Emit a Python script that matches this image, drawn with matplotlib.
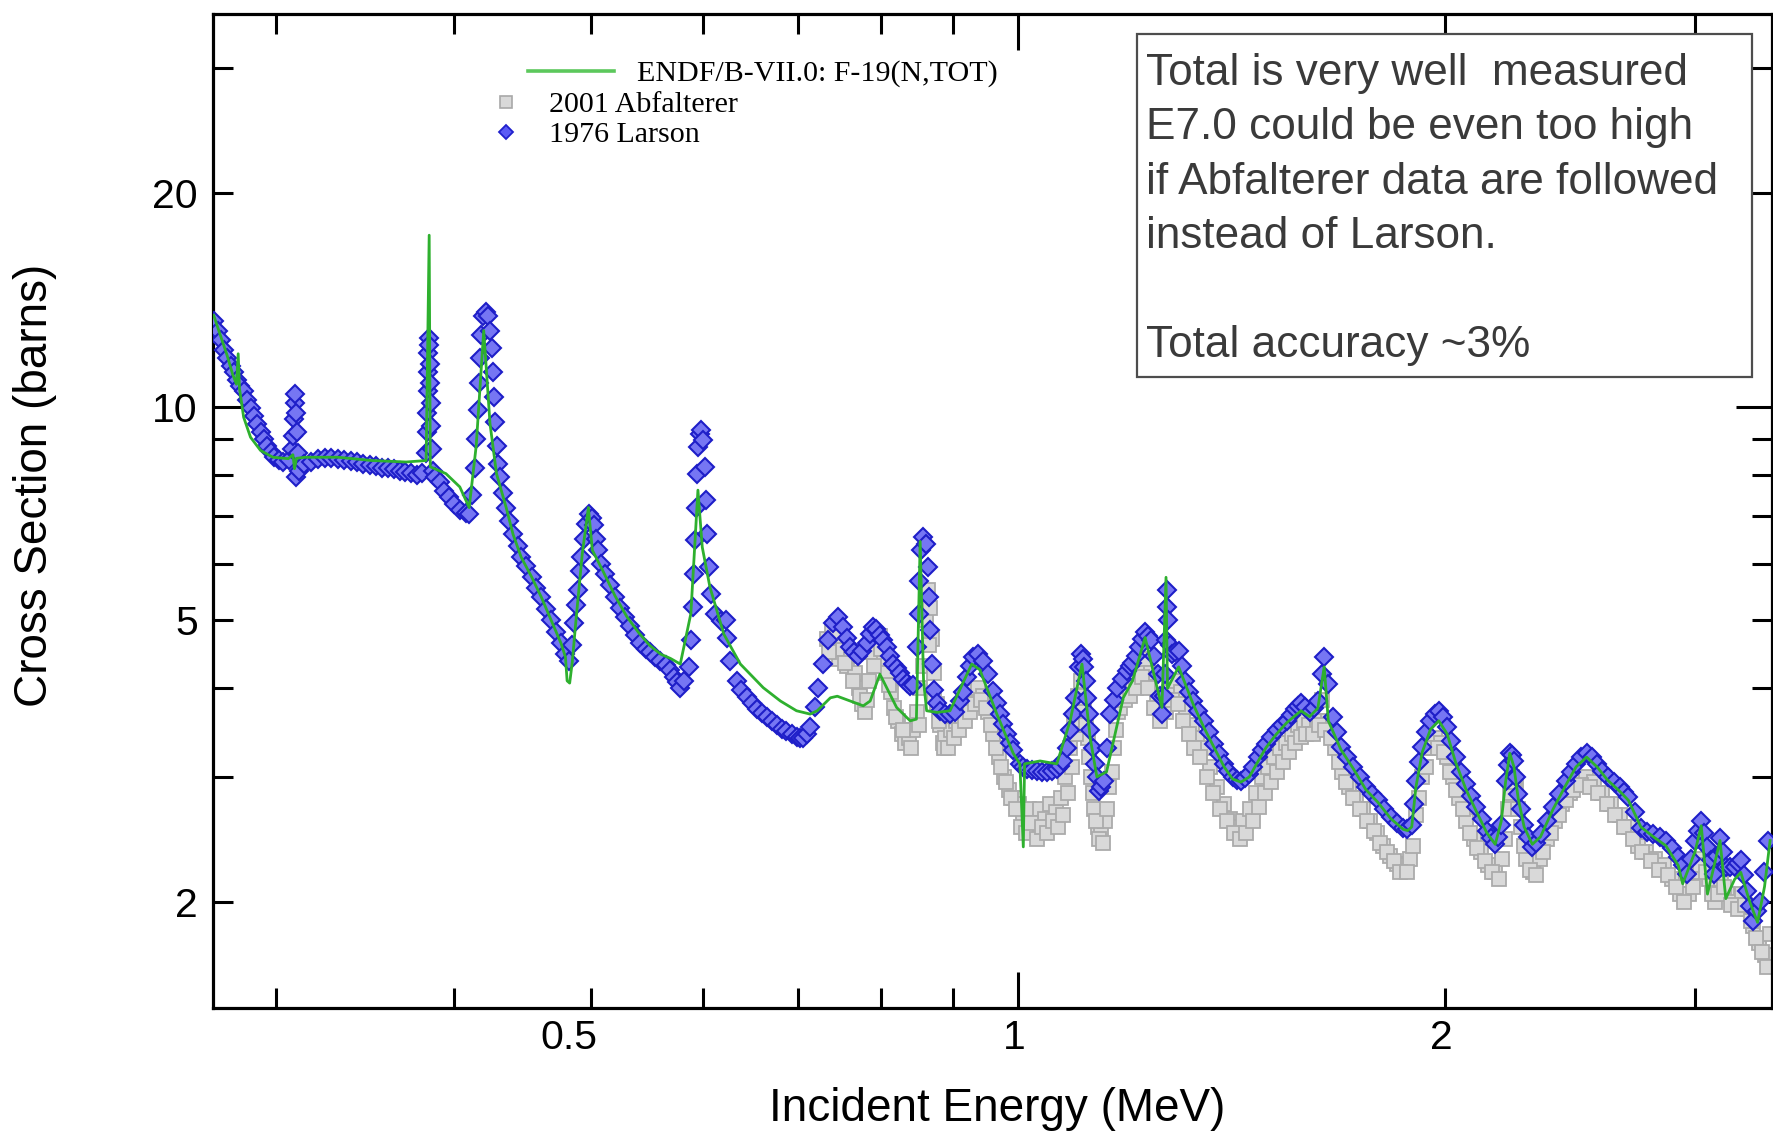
import matplotlib
matplotlib.use('Agg')
import matplotlib.pyplot as plt
import matplotlib.transforms as mtransforms
from matplotlib.lines import Line2D
from matplotlib.patches import Rectangle
from matplotlib.ticker import FixedLocator, FuncFormatter

# +------+
# | Data |   energy (MeV), cross section (barns)
# +------+
endf = [
  (0.2710, 13.45), (0.2740, 12.6), (0.2770, 11.8), (0.2795, 11.1), (0.2812, 10.75),
  (0.2820, 11.87), (0.2826, 10.6), (0.2845, 9.66), (0.2877, 9.05), (0.2924, 8.67),
  (0.2983, 8.48), (0.3059, 8.44), (0.3082, 8.55), (0.3090, 8.17), (0.3100, 8.45),
  (0.3143, 8.48), (0.3316, 8.48), (0.3502, 8.39), (0.3704, 8.35), (0.3826, 8.39),
  (0.3845, 17.45), (0.3852, 8.22), (0.3951, 8.04), (0.4041, 7.7), (0.4103, 7.2),
  (0.4150, 8.8), (0.4201, 12.8), (0.4244, 9.46), (0.4289, 8.04), (0.4357, 7.2),
  (0.4406, 6.6), (0.4464, 6.13), (0.4540, 5.75), (0.4613, 5.38), (0.4686, 5.0),
  (0.4763, 4.63), (0.4797, 4.43), (0.4810, 4.1), (0.4830, 4.07), (0.4850, 4.35),
  (0.4880, 5.0), (0.4930, 6.2), (0.4979, 7.2), (0.5011, 6.27), (0.5100, 5.85),
  (0.5200, 5.4), (0.5300, 5.05), (0.5400, 4.8), (0.5500, 4.6), (0.5600, 4.47),
  (0.5688, 4.41), (0.5780, 4.33), (0.5880, 5.1), (0.5948, 7.62), (0.5990, 6.33),
  (0.6065, 5.56), (0.6204, 4.77), (0.6372, 4.33), (0.6613, 4.01), (0.6800, 3.84),
  (0.6980, 3.72), (0.7136, 3.68), (0.7219, 3.72), (0.7375, 3.88), (0.7458, 3.9),
  (0.7614, 3.84), (0.7779, 3.78), (0.7867, 3.84), (0.7992, 4.19), (0.8212, 3.76),
  (0.8395, 3.6), (0.8480, 3.62), (0.8532, 6.45), (0.8579, 4.1), (0.8622, 3.72),
  (0.8768, 3.7), (0.8955, 3.72), (0.9277, 4.33), (0.9400, 4.25), (0.9663, 3.68),
  (0.9923, 3.24), (1.0031, 3.13), (1.0087, 2.39), (1.0108, 3.13), (1.0365, 3.16),
  (1.0651, 3.13), (1.0884, 3.6), (1.1095, 4.33), (1.1245, 3.4), (1.1367, 3.0),
  (1.1546, 3.05), (1.1864, 3.88), (1.2043, 4.1), (1.2292, 4.72), (1.2633, 3.76),
  (1.2717, 5.74), (1.2747, 4.0), (1.2980, 4.29), (1.3290, 3.8), (1.3517, 3.53),
  (1.3750, 3.3), (1.3975, 3.1), (1.4167, 2.98), (1.4360, 2.95), (1.4557, 3.0),
  (1.4758, 3.15), (1.4958, 3.3), (1.5215, 3.45), (1.5474, 3.58), (1.5834, 3.72),
  (1.6053, 3.65), (1.6271, 3.75), (1.6440, 4.29), (1.6550, 3.6), (1.6890, 3.28),
  (1.7238, 3.08), (1.7587, 2.88), (1.7945, 2.76), (1.8316, 2.62), (1.8691, 2.53),
  (1.8822, 2.52), (1.8950, 2.55), (1.9078, 2.9), (1.9275, 3.25), (1.9534, 3.5),
  (1.9801, 3.6), (2.0072, 3.45), (2.0346, 3.15), (2.0696, 2.88), (2.1050, 2.68),
  (2.1410, 2.5), (2.1701, 2.41), (2.1916, 2.6), (2.2068, 2.95), (2.2219, 3.24),
  (2.2370, 3.1), (2.2524, 2.8), (2.2744, 2.55), (2.3048, 2.41), (2.3357, 2.47),
  (2.3834, 2.7), (2.4332, 2.92), (2.4745, 3.1), (2.5171, 3.2), (2.5601, 3.1),
  (2.6040, 2.97), (2.6578, 2.86), (2.6941, 2.78), (2.7490, 2.55), (2.8050, 2.47),
  (2.8622, 2.4), (2.9210, 2.25), (2.9420, 2.12), (3.0010, 2.35), (3.0320, 2.56),
  (3.0627, 2.05), (3.1258, 2.44), (3.1553, 2.02), (3.2005, 2.15), (3.2330, 2.2),
  (3.2800, 2.0), (3.3220, 1.87), (3.3600, 2.1), (3.3905, 2.44),
]

larson = [
  (0.2713, 13.2), (0.2727, 12.8), (0.2741, 12.4), (0.2756, 12.0), (0.2770, 11.7),
  (0.2786, 11.4), (0.2800, 11.2), (0.2815, 10.9), (0.2830, 10.7), (0.2846, 10.5),
  (0.2861, 10.2), (0.2877, 9.95), (0.2893, 9.7), (0.2909, 9.45), (0.2925, 9.2),
  (0.2941, 9.0), (0.2957, 8.8), (0.2973, 8.62), (0.2990, 8.5), (0.3012, 8.4),
  (0.3034, 8.35), (0.3060, 8.4), (0.3078, 8.7), (0.3083, 9.1), (0.3087, 9.6),
  (0.3090, 10.1), (0.3093, 10.4), (0.3095, 7.95), (0.3097, 9.8), (0.3101, 9.2),
  (0.3106, 8.6), (0.3112, 8.1), (0.3140, 8.3), (0.3175, 8.35), (0.3210, 8.42),
  (0.3245, 8.45), (0.3280, 8.45), (0.3315, 8.42), (0.3350, 8.4), (0.3385, 8.38),
  (0.3420, 8.35), (0.3455, 8.3), (0.3490, 8.28), (0.3525, 8.25), (0.3560, 8.2),
  (0.3595, 8.18), (0.3630, 8.15), (0.3665, 8.1), (0.3700, 8.08), (0.3735, 8.05),
  (0.3770, 8.0), (0.3800, 8.05), (0.3825, 8.6), (0.3830, 9.2), (0.3833, 9.8),
  (0.3836, 10.5), (0.3838, 11.2), (0.3840, 11.9), (0.3843, 12.5), (0.3846, 12.2),
  (0.3849, 11.5), (0.3852, 10.8), (0.3855, 10.1), (0.3858, 9.4), (0.3862, 8.7),
  (0.3868, 8.1), (0.3880, 7.95), (0.3911, 7.82), (0.3940, 7.6), (0.3970, 7.45),
  (0.4005, 7.28), (0.4040, 7.15), (0.4080, 7.08), (0.4103, 7.05), (0.4125, 7.5),
  (0.4140, 8.2), (0.4150, 9.0), (0.4160, 9.9), (0.4168, 10.8), (0.4175, 11.7),
  (0.4185, 12.6), (0.4198, 13.4), (0.4215, 13.6), (0.4230, 13.4), (0.4245, 12.8),
  (0.4255, 12.1), (0.4265, 11.2), (0.4272, 10.3), (0.4280, 9.5), (0.4290, 8.8),
  (0.4302, 8.3), (0.4314, 7.95), (0.4335, 7.55), (0.4357, 7.2), (0.4380, 6.9),
  (0.4406, 6.6), (0.4438, 6.35), (0.4464, 6.13), (0.4501, 5.95), (0.4540, 5.75),
  (0.4576, 5.55), (0.4613, 5.38), (0.4650, 5.18), (0.4686, 5.0), (0.4724, 4.8),
  (0.4763, 4.63), (0.4797, 4.48), (0.4827, 4.38), (0.4847, 4.6), (0.4867, 4.95),
  (0.4882, 5.25), (0.4895, 5.5), (0.4909, 5.85), (0.4923, 6.13), (0.4942, 6.5),
  (0.4963, 6.83), (0.4987, 7.06), (0.5006, 6.95), (0.5028, 6.8), (0.5041, 6.5),
  (0.5056, 6.27), (0.5084, 6.0), (0.5112, 5.81), (0.5154, 5.6), (0.5196, 5.38),
  (0.5238, 5.2), (0.5281, 5.05), (0.5325, 4.9), (0.5367, 4.76), (0.5414, 4.64),
  (0.5464, 4.55), (0.5504, 4.5), (0.5548, 4.43), (0.5597, 4.38), (0.5643, 4.32),
  (0.5688, 4.25), (0.5722, 4.15), (0.5750, 4.08), (0.5781, 4.01), (0.5818, 4.1),
  (0.5858, 4.29), (0.5885, 4.68), (0.5898, 5.21), (0.5912, 5.81), (0.5923, 6.47),
  (0.5928, 7.2), (0.5938, 8.04), (0.5948, 8.76), (0.5968, 9.15), (0.5982, 9.26),
  (0.5995, 8.96), (0.6012, 8.22), (0.6024, 7.37), (0.6035, 6.6), (0.6052, 5.93),
  (0.6075, 5.44), (0.6117, 5.1), (0.6176, 4.98), (0.6221, 4.99), (0.6235, 4.72),
  (0.6263, 4.38), (0.6333, 4.1), (0.6375, 3.98), (0.6439, 3.89), (0.6492, 3.82),
  (0.6546, 3.74), (0.6600, 3.69), (0.6654, 3.65), (0.6706, 3.60), (0.6759, 3.55),
  (0.6813, 3.51), (0.6867, 3.48), (0.6925, 3.45), (0.6982, 3.42), (0.7020, 3.41),
  (0.7057, 3.4), (0.7097, 3.45), (0.7136, 3.53), (0.7193, 3.76), (0.7232, 4.01),
  (0.7291, 4.33), (0.7349, 4.68), (0.7410, 4.94), (0.7472, 5.05), (0.7532, 4.88),
  (0.7572, 4.72), (0.7615, 4.57), (0.7660, 4.5), (0.7709, 4.45), (0.7765, 4.52),
  (0.7821, 4.63), (0.7863, 4.78), (0.7905, 4.88), (0.7948, 4.85), (0.7992, 4.76),
  (0.8036, 4.68), (0.8081, 4.57), (0.8125, 4.45), (0.8168, 4.33), (0.8213, 4.27),
  (0.8258, 4.2), (0.8303, 4.12), (0.8349, 4.07), (0.8390, 4.03), (0.8432, 4.05),
  (0.8486, 4.57), (0.8510, 5.1), (0.8522, 5.68), (0.8540, 6.27), (0.8568, 6.54),
  (0.8616, 6.4), (0.8638, 5.93), (0.8651, 5.38), (0.8671, 4.83), (0.8696, 4.33),
  (0.8722, 3.98), (0.8765, 3.82), (0.8809, 3.72), (0.8880, 3.68), (0.8955, 3.68),
  (0.9030, 3.7), (0.9102, 3.84), (0.9150, 3.95), (0.9201, 4.15), (0.9250, 4.3),
  (0.9301, 4.43), (0.9378, 4.48), (0.9454, 4.38), (0.9531, 4.19), (0.9609, 3.97),
  (0.9660, 3.82), (0.9712, 3.68), (0.9766, 3.56), (0.9820, 3.45), (0.9872, 3.35),
  (0.9923, 3.27), (1.0031, 3.13), (1.0085, 3.1), (1.0140, 3.08), (1.0225, 3.07),
  (1.0309, 3.06), (1.0393, 3.05), (1.0478, 3.05), (1.0565, 3.06), (1.0651, 3.08),
  (1.0710, 3.11), (1.0766, 3.16), (1.0825, 3.3), (1.0884, 3.49), (1.0930, 3.68),
  (1.0974, 3.88), (1.1033, 4.29), (1.1076, 4.48), (1.1105, 4.4), (1.1136, 4.29),
  (1.1160, 4.1), (1.1185, 3.88), (1.1215, 3.68), (1.1245, 3.49), (1.1290, 3.3),
  (1.1336, 3.13), (1.1368, 3.0), (1.1400, 2.87), (1.1447, 2.9), (1.1494, 2.96),
  (1.1555, 3.3), (1.1619, 3.68), (1.1680, 3.85), (1.1745, 4.01), (1.1837, 4.12),
  (1.1929, 4.24), (1.1985, 4.3), (1.2043, 4.35), (1.2105, 4.45), (1.2168, 4.57),
  (1.2230, 4.7), (1.2292, 4.81), (1.2354, 4.75), (1.2416, 4.68), (1.2480, 4.45),
  (1.2543, 4.19), (1.2590, 3.9), (1.2633, 3.68), (1.2670, 3.9), (1.2700, 4.19),
  (1.2717, 4.68), (1.2735, 5.21), (1.2742, 5.5), (1.2767, 5.0), (1.2797, 4.6),
  (1.2846, 4.48), (1.2900, 4.5), (1.2980, 4.52), (1.3045, 4.3), (1.3110, 4.1),
  (1.3200, 3.95), (1.3290, 3.84), (1.3400, 3.72), (1.3517, 3.6), (1.3633, 3.47),
  (1.3750, 3.34), (1.3862, 3.23), (1.3975, 3.13), (1.4070, 3.06), (1.4167, 3.0),
  (1.4263, 2.97), (1.4360, 2.96), (1.4458, 2.99), (1.4557, 3.03), (1.4657, 3.1),
  (1.4758, 3.2), (1.4858, 3.27), (1.4958, 3.34), (1.5085, 3.42), (1.5215, 3.49),
  (1.5345, 3.55), (1.5474, 3.6), (1.5573, 3.67), (1.5673, 3.74), (1.5753, 3.78),
  (1.5834, 3.81), (1.5944, 3.76), (1.6053, 3.71), (1.6162, 3.75), (1.6271, 3.84),
  (1.6383, 4.19), (1.6440, 4.43), (1.6550, 4.06), (1.6668, 3.65), (1.6779, 3.47),
  (1.6890, 3.31), (1.7064, 3.2), (1.7238, 3.1), (1.7412, 3.0), (1.7587, 2.9),
  (1.7766, 2.84), (1.7945, 2.78), (1.8130, 2.7), (1.8316, 2.63), (1.8503, 2.58),
  (1.8691, 2.54), (1.8820, 2.53), (1.8950, 2.57), (1.9014, 2.75), (1.9078, 2.96),
  (1.9176, 3.15), (1.9275, 3.31), (1.9404, 3.47), (1.9534, 3.6), (1.9668, 3.68),
  (1.9801, 3.72), (1.9936, 3.65), (2.0072, 3.53), (2.0209, 3.37), (2.0346, 3.2),
  (2.0521, 3.05), (2.0696, 2.93), (2.0873, 2.82), (2.1050, 2.72), (2.1230, 2.62),
  (2.1410, 2.52), (2.1555, 2.46), (2.1701, 2.41), (2.1808, 2.47), (2.1916, 2.57),
  (2.2068, 2.96), (2.2144, 3.12), (2.2219, 3.24), (2.2295, 3.22), (2.2370, 3.16),
  (2.2447, 3.0), (2.2524, 2.84), (2.2634, 2.7), (2.2744, 2.57), (2.2896, 2.47),
  (2.3048, 2.39), (2.3202, 2.42), (2.3357, 2.49), (2.3595, 2.6), (2.3834, 2.72),
  (2.4083, 2.84), (2.4332, 2.96), (2.4538, 3.05), (2.4745, 3.13), (2.4958, 3.2),
  (2.5171, 3.24), (2.5386, 3.2), (2.5601, 3.13), (2.5820, 3.06), (2.6040, 3.0),
  (2.6309, 2.95), (2.6578, 2.9), (2.6759, 2.86), (2.6941, 2.81), (2.7215, 2.68),
  (2.7490, 2.54), (2.7770, 2.51), (2.8050, 2.49), (2.8336, 2.47), (2.8622, 2.44),
  (2.8916, 2.38), (2.9210, 2.31), (2.9411, 2.25), (2.9613, 2.19), (2.9811, 2.3),
  (3.0010, 2.44), (3.0165, 2.52), (3.0320, 2.6), (3.0473, 2.5), (3.0627, 2.39),
  (3.0783, 2.29), (3.0940, 2.19), (3.1099, 2.32), (3.1258, 2.46), (3.1416, 2.35),
  (3.1575, 2.24), (3.1790, 2.24), (3.2005, 2.24), (3.2168, 2.27), (3.2330, 2.29),
  (3.2498, 2.18), (3.2666, 2.07), (3.2832, 1.97), (3.2998, 1.88), (3.3165, 1.94),
  (3.3333, 2.0), (3.3556, 2.2), (3.3780, 2.44),
]

abfalterer = [
  (0.733, 4.7), (0.739, 4.85), (0.744, 4.6), (0.748, 4.4), (0.753, 4.55),
  (0.758, 4.3), (0.763, 4.45), (0.767, 4.2), (0.772, 4.0), (0.776, 3.8),
  (0.780, 3.7), (0.785, 4.1), (0.789, 4.5), (0.794, 4.7), (0.799, 4.75),
  (0.804, 4.4), (0.809, 4.2), (0.814, 3.95), (0.818, 3.75), (0.823, 3.6),
  (0.828, 3.45), (0.833, 3.35), (0.838, 3.4), (0.843, 3.5), (0.849, 3.7),
  (0.853, 4.0), (0.857, 4.3), (0.861, 5.0), (0.864, 5.5), (0.867, 5.2),
  (0.870, 4.7), (0.873, 4.2), (0.877, 3.8), (0.881, 3.55), (0.885, 3.35),
  (0.889, 3.4), (0.897, 3.5), (0.905, 3.6), (0.913, 3.7), (0.921, 3.85),
  (0.929, 3.95), (0.937, 4.0), (0.945, 3.9), (0.953, 3.7), (0.961, 3.45),
  (0.969, 3.2), (0.977, 3.0), (0.985, 2.88), (0.993, 2.8), (1.001, 2.75),
  (1.009, 2.6), (1.018, 2.7), (1.027, 2.55), (1.036, 2.7), (1.045, 2.62),
  (1.054, 2.75), (1.063, 2.68), (1.072, 2.8), (1.080, 3.0), (1.088, 3.3),
  (1.096, 3.6), (1.102, 3.9), (1.108, 4.1), (1.114, 3.8), (1.120, 3.4),
  (1.126, 3.0), (1.132, 2.7), (1.138, 2.55), (1.144, 2.5), (1.152, 2.6),
  (1.160, 2.9), (1.168, 3.3), (1.176, 3.7), (1.185, 3.9), (1.194, 4.0),
  (1.205, 4.1), (1.217, 4.3), (1.229, 4.4), (1.242, 4.2), (1.254, 3.9),
  (1.266, 3.75), (1.278, 3.95), (1.290, 4.1), (1.302, 3.95), (1.314, 3.75),
  (1.326, 3.55), (1.337, 3.4), (1.352, 3.3), (1.366, 3.1), (1.381, 2.9),
  (1.397, 2.75), (1.412, 2.62), (1.427, 2.55), (1.442, 2.6), (1.457, 2.7),
  (1.471, 2.85), (1.486, 3.0), (1.501, 3.1), (1.516, 3.2), (1.531, 3.3),
  (1.546, 3.35), (1.560, 3.45), (1.575, 3.55), (1.590, 3.6), (1.604, 3.55),
  (1.624, 3.6), (1.639, 3.85), (1.654, 3.6), (1.673, 3.3), (1.693, 3.05),
  (1.712, 2.9), (1.732, 2.8), (1.752, 2.7), (1.771, 2.6), (1.791, 2.5),
  (1.810, 2.4), (1.830, 2.32), (1.850, 2.26), (1.869, 2.25), (1.889, 2.3),
  (1.908, 2.65), (1.928, 3.0), (1.948, 3.3), (1.968, 3.4), (1.987, 3.35),
  (2.007, 3.2), (2.027, 3.0), (2.047, 2.8), (2.071, 2.6), (2.096, 2.45),
  (2.121, 2.35), (2.145, 2.25), (2.170, 2.2), (2.194, 2.3), (2.214, 2.7),
  (2.229, 3.0), (2.244, 2.9), (2.263, 2.55), (2.283, 2.3), (2.307, 2.2),
  (2.332, 2.3), (2.361, 2.45), (2.391, 2.6), (2.420, 2.75), (2.450, 2.85),
  (2.479, 2.95), (2.513, 3.0), (2.548, 2.95), (2.582, 2.85), (2.617, 2.75),
  (2.656, 2.65), (2.695, 2.55), (2.734, 2.4), (2.774, 2.35), (2.813, 2.3),
  (2.853, 2.25), (2.892, 2.15), (2.931, 2.05), (2.970, 2.05), (3.010, 2.2),
  (3.040, 2.3), (3.070, 2.15), (3.100, 2.0), (3.130, 2.15), (3.160, 2.05),
  (3.200, 2.0), (3.240, 2.05), (3.270, 1.95), (3.300, 1.85), (3.330, 1.75),
  (3.360, 1.68), (3.390, 1.8),
  # lower edge of the scattered band
  (0.736, 4.5), (0.746, 4.75), (0.755, 4.35), (0.765, 4.1), (0.774, 3.9),
  (0.783, 3.85), (0.791, 4.3), (0.801, 4.55), (0.811, 4.05), (0.820, 3.65),
  (0.830, 3.5), (0.840, 3.3), (0.851, 3.55), (0.866, 4.6), (0.872, 3.9),
  (0.879, 3.6), (0.887, 3.3), (0.893, 3.3), (0.901, 3.4), (0.909, 3.5),
  (0.917, 3.6), (0.925, 3.7), (0.933, 3.8), (0.941, 3.85), (0.949, 3.75),
  (0.957, 3.55), (0.965, 3.3), (0.973, 3.1), (0.981, 2.95), (0.989, 2.8),
  (0.997, 2.7), (1.005, 2.55), (1.013, 2.5), (1.022, 2.58), (1.031, 2.45),
  (1.040, 2.55), (1.049, 2.5), (1.058, 2.6), (1.067, 2.55), (1.076, 2.65),
  (1.084, 2.85), (1.092, 3.1), (1.099, 3.45), (1.105, 3.7), (1.117, 3.55),
  (1.123, 3.2), (1.129, 2.85), (1.135, 2.6), (1.141, 2.45), (1.148, 2.42),
  (1.156, 2.7), (1.164, 3.05), (1.172, 3.5), (1.181, 3.75), (1.190, 3.85),
  (1.200, 3.9), (1.211, 4.0), (1.223, 4.15), (1.236, 4.0), (1.248, 3.75),
  (1.260, 3.6), (1.272, 3.7), (1.284, 3.85), (1.296, 3.8), (1.308, 3.6),
  (1.320, 3.45), (1.331, 3.3), (1.344, 3.2), (1.359, 3.0), (1.373, 2.85),
  (1.389, 2.7), (1.404, 2.6), (1.419, 2.5), (1.434, 2.45), (1.449, 2.5),
  (1.464, 2.6), (1.478, 2.72), (1.493, 2.85), (1.508, 2.95), (1.523, 3.05),
  (1.538, 3.15), (1.553, 3.25), (1.567, 3.35), (1.582, 3.42), (1.597, 3.45),
  (1.614, 3.45), (1.631, 3.55), (1.646, 3.5), (1.663, 3.4), (1.683, 3.15),
  (1.702, 2.95), (1.722, 2.8), (1.742, 2.7), (1.761, 2.6), (1.781, 2.52),
  (1.800, 2.42), (1.820, 2.35), (1.840, 2.28), (1.860, 2.2), (1.879, 2.2),
  (1.898, 2.4), (1.918, 2.8), (1.938, 3.1), (1.958, 3.3), (1.977, 3.3),
  (1.997, 3.25), (2.017, 3.05), (2.037, 2.88), (2.059, 2.7), (2.083, 2.5),
  (2.108, 2.38), (2.133, 2.28), (2.157, 2.2), (2.182, 2.15), (2.204, 2.45),
  (2.221, 2.85), (2.236, 2.95), (2.253, 2.7), (2.273, 2.4), (2.295, 2.22),
  (2.320, 2.18), (2.346, 2.35), (2.376, 2.5), (2.405, 2.65), (2.435, 2.78),
  (2.464, 2.88), (2.496, 2.92), (2.530, 2.9), (2.565, 2.85), (2.600, 2.75),
  (2.636, 2.65), (2.675, 2.55), (2.714, 2.45), (2.754, 2.35), (2.793, 2.28),
  (2.833, 2.22), (2.872, 2.18), (2.911, 2.1), (2.950, 2.0), (2.990, 2.1),
  (3.025, 2.25), (3.055, 2.2), (3.085, 2.05), (3.115, 2.05), (3.145, 2.1),
  (3.180, 1.98), (3.220, 1.95), (3.255, 1.98), (3.285, 1.88), (3.315, 1.78),
  (3.345, 1.7), (3.375, 1.62),
]

legend_names = ['ENDF/B-VII.0: F-19(N,TOT)', '2001 Abfalterer', '1976 Larson']
note_lines = ['Total is very well  measured',
              'E7.0 could be even too high',
              'if Abfalterer data are followed',
              'instead of Larson.',
              '',
              'Total accuracy ~3%']

x_major = [1.0]
x_minor = [0.3, 0.4, 0.5, 0.6, 0.7, 0.8, 0.9, 2.0, 3.0]
x_labels = {0.5: '0.5', 1.0: '1', 2.0: '2'}
y_major = [10.0]
y_minor = [2.0, 3.0, 4.0, 5.0, 6.0, 7.0, 8.0, 9.0, 20.0, 30.0]
y_labels = {2.0: '2', 5.0: '5', 10.0: '10', 20.0: '20'}

# +--------+
# | Figure |
# +--------+
plt.rcParams['font.family'] = 'Liberation Sans'
W, H = 1774, 1139
def fx(px):
  return px / W
def fy(py):
  return 1.0 - py / H

fig = plt.figure(figsize=(W / 100, H / 100), dpi=100)
ax = fig.add_axes([fx(213), fy(1007.5), (1772 - 213) / W, (1007.5 - 13.6) / H])
ax.set_xscale('log')
ax.set_yscale('log')
ax.set_xlim(0.2707, 3.401)
ax.set_ylim(1.418, 35.86)

# data
ax.plot([p[0] for p in abfalterer], [p[1] for p in abfalterer], 's', ms=10.0,
        mfc='#d9d9d9', mec='#ababab', mew=1.3, ls='none', zorder=2)
ax.plot([p[0] for p in larson], [p[1] for p in larson], 'D', ms=8.8,
        mfc='#7676f3', mec='#1e1ec8', mew=1.5, ls='none', zorder=3)
ax.plot([p[0] for p in endf], [p[1] for p in endf], '-', color='#2eb02e',
        lw=2.0, zorder=4)

# ticks
ax.xaxis.set_major_locator(FixedLocator(x_major))
ax.xaxis.set_minor_locator(FixedLocator(x_minor))
ax.yaxis.set_major_locator(FixedLocator(y_major))
ax.yaxis.set_minor_locator(FixedLocator(y_minor))
xfmt = FuncFormatter(lambda v, pos: x_labels.get(round(v, 2), ''))
yfmt = FuncFormatter(lambda v, pos: y_labels.get(round(v, 2), ''))
ax.xaxis.set_major_formatter(xfmt)
ax.xaxis.set_minor_formatter(xfmt)
ax.yaxis.set_major_formatter(yfmt)
ax.yaxis.set_minor_formatter(yfmt)
ax.tick_params(which='both', direction='in', top=True, right=True,
               width=2.2, labelsize=29.5, color='black')
ax.tick_params(which='major', length=26)
ax.tick_params(which='minor', length=14.4)
ax.tick_params(axis='x', which='both', pad=8.5)
ax.tick_params(axis='y', which='both', pad=10.8)
for sp in ax.spines.values():
  sp.set_linewidth(2.3)

# axis titles
ax.set_xlabel('Incident Energy (MeV)', fontsize=33, va='center')
ax.xaxis.set_label_coords((997.5 - 213) / 1559, (1007.5 - 1109) / 993.9)
ax.set_ylabel('Cross Section (barns)', fontsize=33, va='center')
ax.yaxis.set_label_coords((35 - 213) / 1559, (1007.5 - 485) / 993.9)

# legend (drawn by hand, Grace style)
fig.add_artist(Line2D([fx(528), fx(614)], [fy(71.3), fy(71.3)],
                      transform=fig.transFigure, color='#5cc85c', lw=2.6))
fig.add_artist(Line2D([fx(505.7)], [fy(101.8)], transform=fig.transFigure,
                      marker='s', ms=8.0, mfc='#d9d9d9', mec='#a8a8a8', mew=1.2))
fig.add_artist(Line2D([fx(505.7)], [fy(132.4)], transform=fig.transFigure,
                      marker='D', ms=7.6, mfc='#5a5af5', mec='#2020cc', mew=1.3))
legend_pos = [(637, 81), (549, 111.5), (549, 142)]
for name, (px, py) in zip(legend_names, legend_pos):
  fig.text(fx(px), fy(py), name, family='Liberation Serif', fontsize=21.6,
           va='baseline', ha='left', color='black')

# note box
fig.add_artist(Rectangle((fx(1137), fy(376.8)), (1751.5 - 1137) / W,
                         (376.8 - 34) / H, transform=fig.transFigure,
                         facecolor='white', edgecolor='#4d4d4d', lw=1.6, zorder=5))
for i, line in enumerate(note_lines):
  fig.text(fx(1146), fy(85 + i * 54.3), line, fontsize=31.8, color='#3a3a3a',
           va='baseline', ha='left', zorder=6)

# x tick labels sit a little left of their ticks
fig.canvas.draw()
for tick in ax.xaxis.get_major_ticks() + ax.xaxis.get_minor_ticks():
  dx = -22 if abs(tick.get_loc() - 0.5) < 1e-6 else -4
  tick.label1.set_transform(tick.label1.get_transform() +
                            mtransforms.ScaledTranslation(dx / 100, 0, fig.dpi_scale_trans))

fig.savefig('out.png', dpi=100)
